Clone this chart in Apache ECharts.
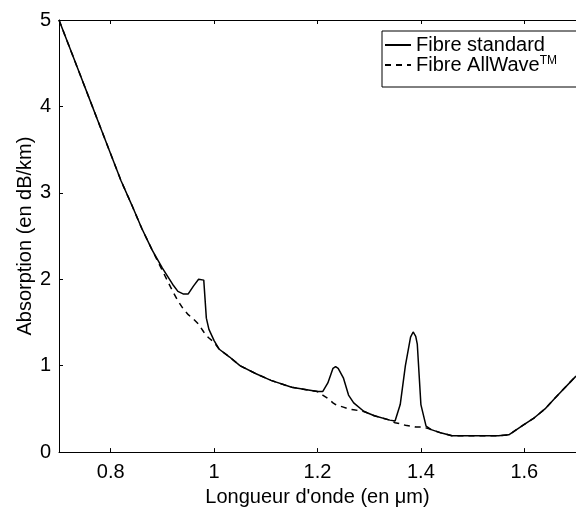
<!DOCTYPE html>
<html>
<head>
<meta charset="utf-8">
<script src="https://cdn.jsdelivr.net/npm/echarts@6/dist/echarts.min.js"></script>
<style>html,body{margin:0;padding:0;background:#fff}#c{width:576px;height:512px}</style>
</head>
<body>
<div id="c"></div>
<script>
var wavelength = [0.70,0.72,0.74,0.76,0.78,0.80,0.82,0.84,0.86,0.88,0.90,0.92,0.93,0.94,0.95,0.96,0.97,0.98,0.985,0.99,1.00,1.01,1.03,1.05,1.08,1.11,1.15,1.20,1.21,1.22,1.23,1.235,1.24,1.25,1.26,1.27,1.29,1.31,1.34,1.35,1.36,1.37,1.38,1.385,1.39,1.393,1.40,1.41,1.42,1.44,1.46,1.50,1.55,1.57,1.58,1.60,1.62,1.64,1.66,1.70];
var standard   = [5.00,4.69,4.38,4.07,3.76,3.45,3.14,2.87,2.59,2.34,2.13,1.94,1.86,1.83,1.83,1.92,2.00,1.99,1.55,1.42,1.29,1.19,1.10,1.00,0.91,0.83,0.75,0.70,0.70,0.80,0.97,0.99,0.97,0.86,0.66,0.57,0.47,0.42,0.37,0.36,0.55,1.00,1.33,1.39,1.34,1.25,0.55,0.30,0.26,0.22,0.19,0.19,0.19,0.20,0.24,0.32,0.40,0.50,0.63,0.88];
var allwave    = [5.00,4.69,4.38,4.07,3.76,3.45,3.14,2.87,2.59,2.34,2.10,1.86,1.75,1.66,1.59,1.54,1.48,1.39,1.35,1.32,1.27,1.19,1.10,1.00,0.91,0.83,0.75,0.70,0.66,0.62,0.57,0.55,0.54,0.52,0.50,0.49,0.47,0.42,0.37,0.34,0.33,0.31,0.30,0.30,0.29,0.29,0.29,0.28,0.26,0.22,0.19,0.19,0.19,0.20,0.24,0.32,0.40,0.50,0.63,0.88];
var xTicks = [0.8,1.0,1.2,1.4,1.6];
var seriesNames = ['Fibre standard','Fibre AllWave'];

function pairs(ys){ return wavelength.map(function(x,i){ return [x, ys[i]]; }); }

var FONT = 'Liberation Sans';
var chart = echarts.init(document.getElementById('c'), null, {renderer:'canvas'});
chart.setOption({
  animation: false,
  backgroundColor: '#fff',
  textStyle: {fontFamily: FONT},
  grid: {left: 59, top: 20, right: -11, bottom: 58},
  legend: {
    orient: 'vertical', left: 382, top: 31,
    padding: [4, 40, 12, 2], itemGap: 0,
    itemWidth: 26, itemHeight: 14,
    borderColor: '#000', borderWidth: 1, backgroundColor: '#fff',
    itemStyle: {opacity: 0},
    data: seriesNames,
    formatter: function(n){ return n === 'Fibre AllWave' ? '{m|Fibre AllWave}{s|TM}' : '{m|' + n + '}'; },
    textStyle: {
      fontFamily: FONT, fontSize: 20, color: '#000',
      rich: {
        m: {fontFamily: FONT, fontSize: 20, color: '#000', lineHeight: 20},
        s: {fontFamily: FONT, fontSize: 12, color: '#000', lineHeight: 12, verticalAlign: 'top'}
      }
    }
  },
  xAxis: [{
    type: 'value', min: 0.7, max: 1.7, position: 'bottom',
    name: "Longueur d'onde (en μm)", nameLocation: 'middle', nameGap: 32,
    nameTextStyle: {fontFamily: FONT, fontSize: 20, color: '#000'},
    axisLine: {lineStyle: {color: '#000', width: 1}},
    axisTick: {inside: true, length: 4, customValues: xTicks, lineStyle: {color: '#000'}},
    axisLabel: {customValues: xTicks, margin: 10, fontFamily: FONT, fontSize: 20, color: '#000',
      formatter: function(v){ return String(+v.toFixed(2)); }},
    splitLine: {show: false}
  },{
    type: 'value', min: 0.7, max: 1.7, position: 'top',
    axisLine: {lineStyle: {color: '#000', width: 1}},
    axisTick: {inside: true, length: 4, customValues: xTicks, lineStyle: {color: '#000'}},
    axisLabel: {show: false}, splitLine: {show: false}
  }],
  yAxis: [{
    type: 'value', min: 0, max: 5, interval: 1,
    name: 'Absorption (en dB/km)', nameLocation: 'middle', nameGap: 24, nameMoveOverlap: false,
    nameTextStyle: {fontFamily: FONT, fontSize: 20, color: '#000'},
    axisLine: {show: true, lineStyle: {color: '#000', width: 1}},
    axisTick: {show: true, inside: true, length: 4, lineStyle: {color: '#000'}},
    axisLabel: {margin: 8, fontFamily: FONT, fontSize: 20, color: '#000'},
    splitLine: {show: false}
  }],
  series: [{
    name: 'Fibre standard', type: 'line', xAxisIndex: 0, symbol: 'none', smooth: false,
    lineStyle: {color: '#000', width: 1.5, type: 'solid'}, itemStyle: {color: '#000'},
    data: pairs(standard)
  },{
    name: 'Fibre AllWave', type: 'line', xAxisIndex: 0, symbol: 'none', smooth: false,
    lineStyle: {color: '#000', width: 1.5, type: [6, 5]}, itemStyle: {color: '#000'},
    data: pairs(allwave)
  }]
});
</script>
</body>
</html>
